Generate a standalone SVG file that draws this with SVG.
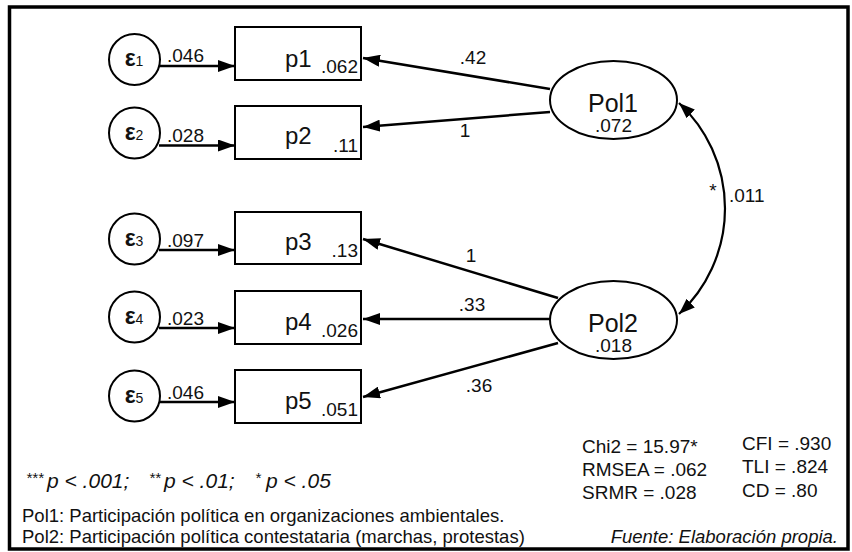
<svg xmlns="http://www.w3.org/2000/svg" width="852" height="552" viewBox="0 0 852 552">
  <defs>
    <marker id="head" markerUnits="userSpaceOnUse" markerWidth="17" markerHeight="12" refX="17" refY="6" orient="auto">
      <path d="M0,0 L17,6 L0,12 z" fill="#000"/>
    </marker>
    <marker id="headC" markerUnits="userSpaceOnUse" markerWidth="16" markerHeight="12" refX="16" refY="6" orient="auto-start-reverse">
      <path d="M0,0 L16,6 L0,12 z" fill="#000"/>
    </marker>
    <style>
      text { font-family: "Liberation Sans", Arial, sans-serif; fill: #111; }
      .box { fill: #fff; stroke: #000; stroke-width: 2; }
      .lat { fill: #fff; stroke: #000; stroke-width: 2; }
      .err { fill: #fff; stroke: #000; stroke-width: 2; }
      .edge { fill: none; stroke: #000; stroke-width: 2.5; marker-end: url(#head); }
      .cov { fill: none; stroke: #000; stroke-width: 2.2; marker-start: url(#headC); marker-end: url(#headC); }
      .var { font-size: 24px; }
      .num { font-size: 19px; }
      .eps { font-size: 23px; font-weight: bold; }
      .sub { font-size: 14px; font-weight: normal; }
      .latl { font-size: 25px; }
      .fit { font-size: 19px; }
      .note { font-size: 18.5px; }
      .sig { font-size: 21px; font-style: italic; }
      .star { font-size: 15px; font-style: italic; }
      .it { font-style: italic; }
    </style>
  </defs>

  <rect x="9.5" y="7" width="838.5" height="542" fill="#fff" stroke="#000" stroke-width="3.5"/>

  <!-- connectors -->
  <g id="connectors">
    <path class="edge" d="M159,66 L235,66"/>
    <path class="edge" d="M159,145.5 L235,145.5"/>
    <path class="edge" d="M159,250 L235,250"/>
    <path class="edge" d="M159,328 L235,328"/>
    <path class="edge" d="M159,402 L235,402"/>

    <path class="edge" d="M550,89 L363,58"/>
    <path class="edge" d="M550,112 L363,127"/>
    <path class="edge" d="M558,298 L363,239"/>
    <path class="edge" d="M550,319 L363,319"/>
    <path class="edge" d="M558,343 L363,397"/>

    <path class="cov" d="M679,103 A144,144 0 0,1 679,314"/>

    <text class="num" x="167" y="62">.046</text>
    <text class="num" x="167" y="142">.028</text>
    <text class="num" x="167" y="247">.097</text>
    <text class="num" x="167" y="325">.023</text>
    <text class="num" x="167" y="399">.046</text>

    <text class="num" x="473" y="64" text-anchor="middle">.42</text>
    <text class="num" x="465" y="137" text-anchor="middle">1</text>
    <text class="num" x="471" y="262" text-anchor="middle">1</text>
    <text class="num" x="472" y="311" text-anchor="middle">.33</text>
    <text class="num" x="479" y="392" text-anchor="middle">.36</text>

    <text class="num" x="713" y="197" text-anchor="middle">*</text>
    <text class="num" x="729" y="202">.011</text>
  </g>

  <!-- error terms -->
  <g id="e1"><circle class="err" cx="134.5" cy="59.5" r="25.5"/><text class="eps" x="134" y="66" text-anchor="middle">ε<tspan class="sub">1</tspan></text></g>
  <g id="e2"><circle class="err" cx="134.5" cy="133" r="25.5"/><text class="eps" x="134" y="139.5" text-anchor="middle">ε<tspan class="sub">2</tspan></text></g>
  <g id="e3"><circle class="err" cx="134.5" cy="239" r="25.5"/><text class="eps" x="134" y="245.5" text-anchor="middle">ε<tspan class="sub">3</tspan></text></g>
  <g id="e4"><circle class="err" cx="134.5" cy="317" r="25.5"/><text class="eps" x="134" y="323.5" text-anchor="middle">ε<tspan class="sub">4</tspan></text></g>
  <g id="e5"><circle class="err" cx="134.5" cy="396" r="25.5"/><text class="eps" x="134" y="402.5" text-anchor="middle">ε<tspan class="sub">5</tspan></text></g>

  <!-- observed variables -->
  <g id="p1"><rect class="box" x="235" y="27" width="126" height="53"/><text class="var" x="285" y="67">p1</text><text class="num" x="358" y="73" text-anchor="end">.062</text></g>
  <g id="p2"><rect class="box" x="235" y="106" width="126" height="53"/><text class="var" x="285" y="144">p2</text><text class="num" x="358" y="152" text-anchor="end">.11</text></g>
  <g id="p3"><rect class="box" x="235" y="212" width="126" height="52"/><text class="var" x="285" y="250">p3</text><text class="num" x="358" y="257" text-anchor="end">.13</text></g>
  <g id="p4"><rect class="box" x="235" y="291" width="126" height="53"/><text class="var" x="285" y="330">p4</text><text class="num" x="358" y="337" text-anchor="end">.026</text></g>
  <g id="p5"><rect class="box" x="235" y="370" width="126" height="53"/><text class="var" x="285" y="409">p5</text><text class="num" x="358" y="416" text-anchor="end">.051</text></g>

  <!-- latent variables -->
  <g id="Pol1"><ellipse class="lat" cx="613.5" cy="100" rx="63.5" ry="39"/><text class="latl" x="613" y="112" text-anchor="middle">Pol1</text><text class="num" x="613.5" y="132" text-anchor="middle">.072</text></g>
  <g id="Pol2"><ellipse class="lat" cx="613.5" cy="320" rx="63.5" ry="39"/><text class="latl" x="613" y="332" text-anchor="middle">Pol2</text><text class="num" x="613.5" y="352" text-anchor="middle">.018</text></g>

  <!-- significance legend -->
  <g id="legend">
    <text class="star" x="26" y="483">***</text>
    <text class="sig" x="47" y="488">p &lt; .001;</text>
    <text class="star" x="149" y="483">**</text>
    <text class="sig" x="164" y="488">p &lt; .01;</text>
    <text class="star" x="255" y="483">*</text>
    <text class="sig" x="266" y="488">p &lt; .05</text>
  </g>

  <!-- fit indices -->
  <g id="fit">
    <text class="fit" x="582" y="453">Chi2 = 15.97*</text>
    <text class="fit" x="582" y="476">RMSEA = .062</text>
    <text class="fit" x="582" y="499">SRMR = .028</text>
    <text class="fit" x="742" y="450">CFI = .930</text>
    <text class="fit" x="742" y="473">TLI = .824</text>
    <text class="fit" x="742" y="497">CD = .80</text>
  </g>

  <!-- notes -->
  <g id="notes">
    <text class="note" x="22" y="522">Pol1: Participación política en organizaciones ambientales.</text>
    <text class="note" x="22" y="543">Pol2: Participación política contestataria (marchas, protestas)</text>
    <text class="note it" x="838" y="543" text-anchor="end">Fuente: Elaboración propia.</text>
  </g>
</svg>
